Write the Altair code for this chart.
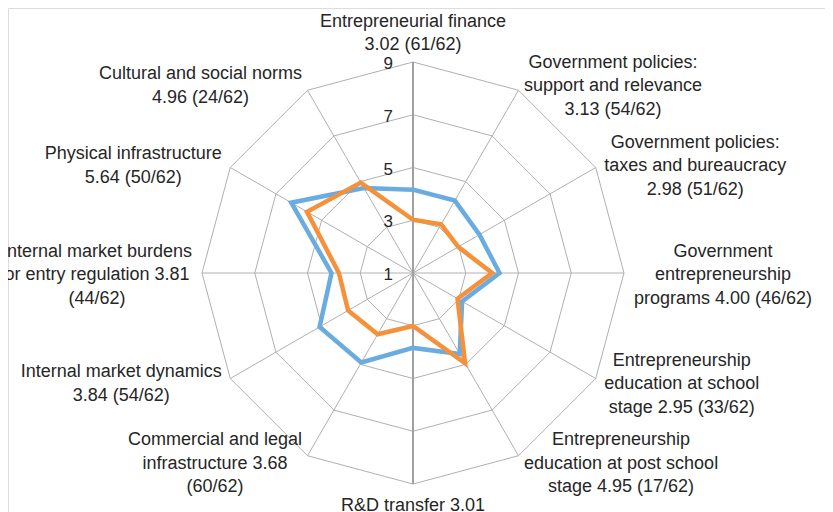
import math
import altair as alt
import pandas as pd

# ---------------- data ----------------
categories = [
    "Entrepreneurial finance",
    "Government policies: support and relevance",
    "Government policies: taxes and bureaucracy",
    "Government entrepreneurship programs",
    "Entrepreneurship education at school stage",
    "Entrepreneurship education at post school stage",
    "R&D transfer",
    "Commercial and legal infrastructure",
    "Internal market dynamics",
    "Internal market burdens or entry regulation",
    "Physical infrastructure",
    "Cultural and social norms",
]
country_scores = [3.02, 3.13, 2.98, 4.00, 2.95, 4.95, 3.01, 3.68, 3.84, 3.81, 5.64, 4.96]
benchmark_scores = [4.16, 4.17, 3.91, 4.28, 3.15, 4.54, 3.84, 4.92, 5.09, 4.09, 6.33, 4.72]
label_lines = [
    ["Entrepreneurial finance", "3.02 (61/62)"],
    ["Government policies:", "support and relevance", "3.13 (54/62)"],
    ["Government policies:", "taxes and bureaucracy", "2.98 (51/62)"],
    ["Government", "entrepreneurship", "programs 4.00 (46/62)"],
    ["Entrepreneurship", "education at school", "stage 2.95 (33/62)"],
    ["Entrepreneurship", "education at post school", "stage 4.95 (17/62)"],
    ["R&D transfer 3.01"],
    ["Commercial and legal", "infrastructure 3.68", "(60/62)"],
    ["Internal market dynamics", "3.84 (54/62)"],
    ["Internal market burdens", "or entry regulation 3.81", "(44/62)"],
    ["Physical infrastructure", "5.64 (50/62)"],
    ["Cultural and social norms", "4.96 (24/62)"],
]
ring_values = [3, 5, 7, 9]
tick_values = [1, 3, 5, 7, 9]
scale_min = 1

# ---------------- geometry ----------------
W, H = 817, 504
CX, CY = 405, 265
RMAX_PX = 211.0
RMAX = max(ring_values) - scale_min
K = RMAX_PX / RMAX
N = len(categories)
FONT = "Liberation Sans"
FS = 18
LH = 23.5

xscale = alt.Scale(domain=[-CX / K, (W - CX) / K], nice=False, zero=False)
yscale = alt.Scale(domain=[-(H - CY) / K, CY / K], nice=False, zero=False)

ARIAL = {
    'a': 556, 'b': 556, 'c': 500, 'd': 556, 'e': 556, 'f': 278, 'g': 556, 'h': 556,
    'i': 222, 'j': 222, 'k': 500, 'l': 222, 'm': 833, 'n': 556, 'o': 556, 'p': 556,
    'q': 556, 'r': 333, 's': 500, 't': 278, 'u': 556, 'v': 500, 'w': 722, 'x': 500,
    'y': 500, 'z': 500, ' ': 278, '.': 278, '(': 333, ')': 333, '/': 278, ':': 278,
    '&': 667, 'C': 722, 'D': 722, 'E': 667, 'G': 778, 'I': 278, 'P': 667, 'R': 722,
}


def text_w(s):
    return sum(ARIAL.get(ch, 556) for ch in s) * FS / 1000.0


# label anchor positions derived from the axis angle
lab_rows = []
for i, lines in enumerate(label_lines):
    a = i * 2 * math.pi / N
    s, c = math.sin(a), math.cos(a)
    vx, vy = RMAX_PX * s, -RMAX_PX * c  # pixel offset from center, y down
    n = len(lines)
    w = max(text_w(t) for t in lines)
    if abs(s) < 0.1:
        cx = vx
        if c > 0:
            cy = vy - 18 - (n - 1) * LH / 2
        else:
            cy = vy + 21 + (n - 1) * LH / 2
    else:
        gap = 4 + 6 * s * s
        cx = vx + (1 if s > 0 else -1) * (gap + w / 2)
        cy = vy + 1 - 7 * c
    # anchor the first line (Vega stacks further lines below it)
    fy = cy - (n - 1) * LH / 2 + 1
    lab_rows.append({"txt": "\n".join(lines), "ux": cx / K, "uy": -fy / K})
labels_df = pd.DataFrame(lab_rows)

# series in long form, closed polygon
ser_rows = []
for name, vals in [("benchmark", benchmark_scores), ("country", country_scores)]:
    for j in range(N + 1):
        ser_rows.append({"series": name, "idx": j, "value": vals[j % N]})
ser_df = pd.DataFrame(ser_rows)

ring_rows = [{"ring": r, "idx": j} for r in ring_values for j in range(N + 1)]
ring_df = pd.DataFrame(ring_rows)

spoke_df = pd.DataFrame({"idx": [j for j in range(N) if j % (N // 2) != 0]})
axis_df = pd.DataFrame({"lo": [-RMAX], "hi": [RMAX]})
tick_df = pd.DataFrame({"t": tick_values})

rings = alt.Chart(ring_df).transform_calculate(
    ang=f"datum.idx * 2 * PI / {N}",
    r=f"datum.ring - {scale_min}",
).transform_calculate(
    px="datum.r * sin(datum.ang)", py="datum.r * cos(datum.ang)"
).mark_line(color="#b0b0b0", strokeWidth=1).encode(
    x=alt.X("px:Q", scale=xscale, axis=None),
    y=alt.Y("py:Q", scale=yscale, axis=None),
    detail="ring:N",
    order="idx:Q",
)

spokes = alt.Chart(spoke_df).transform_calculate(
    ang=f"datum.idx * 2 * PI / {N}",
    z="0",
).transform_calculate(
    px=f"{RMAX} * sin(datum.ang)", py=f"{RMAX} * cos(datum.ang)"
).mark_rule(color="#b0b0b0", strokeWidth=1).encode(
    x=alt.X("z:Q", scale=xscale, axis=None),
    y=alt.Y("z:Q", scale=yscale, axis=None),
    x2="px:Q",
    y2="py:Q",
)

axis_line = alt.Chart(axis_df).transform_calculate(z="0").mark_rule(
    color="#a0a0a0", strokeWidth=2
).encode(
    x=alt.X("z:Q", scale=xscale, axis=None),
    y=alt.Y("lo:Q", scale=yscale, axis=None),
    y2="hi:Q",
)

series = alt.Chart(ser_df).transform_calculate(
    ang=f"datum.idx * 2 * PI / {N}",
    r=f"datum.value - {scale_min}",
).transform_calculate(
    px="datum.r * sin(datum.ang)", py="datum.r * cos(datum.ang)"
).mark_line(strokeWidth=4.5, strokeJoin="miter").encode(
    x=alt.X("px:Q", scale=xscale, axis=None),
    y=alt.Y("py:Q", scale=yscale, axis=None),
    color=alt.Color(
        "series:N",
        scale=alt.Scale(domain=["benchmark", "country"], range=["#6aacdf", "#f4913a"]),
        legend=None,
    ),
    detail="series:N",
    order="idx:Q",
)

ticks = alt.Chart(tick_df).transform_calculate(
    z="0", ty=f"datum.t - {scale_min}"
).mark_text(
    align="right", baseline="middle", dx=-20, dy=2, font=FONT, fontSize=17, color="#262626"
).encode(
    x=alt.X("z:Q", scale=xscale, axis=None),
    y=alt.Y("ty:Q", scale=yscale, axis=None),
    text=alt.Text("t:Q", format="d"),
)

labels = alt.Chart(labels_df).mark_text(
    align="center", baseline="middle", lineBreak="\n", lineHeight=LH,
    font=FONT, fontSize=FS, color="#262626"
).encode(
    x=alt.X("ux:Q", scale=xscale, axis=None),
    y=alt.Y("uy:Q", scale=yscale, axis=None),
    text="txt:N",
)

chart = alt.layer(rings, spokes, axis_line, series, ticks, labels).properties(
    width=W, height=H, padding=0, autosize=alt.AutoSizeParams(type="none")
).configure_view(stroke=None).configure(background="white")

chart.save("out.html", embed_options={"renderer": "svg", "actions": False})
